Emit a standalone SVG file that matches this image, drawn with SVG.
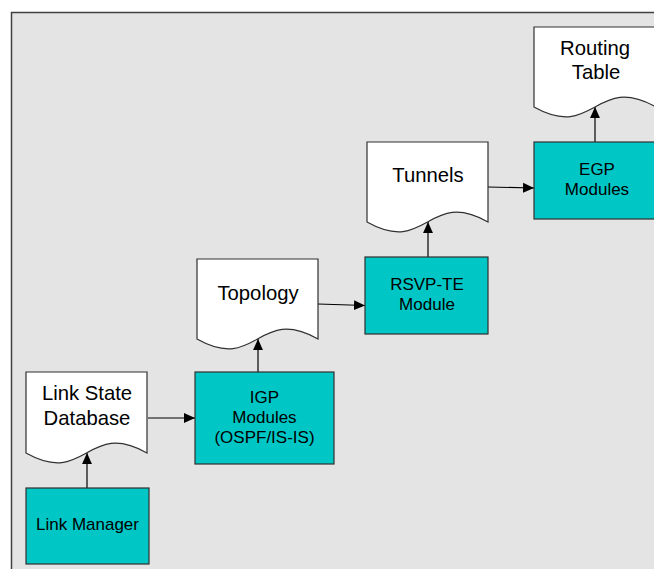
<svg xmlns="http://www.w3.org/2000/svg" width="654" height="569" viewBox="0 0 654 569">
  <defs>
    <style>
      .panel { fill: #e4e4e4; stroke: #404040; stroke-width: 1.5; }
      .doc { fill: #ffffff; stroke: #303030; stroke-width: 1.2; }
      .box { fill: #00c6c6; stroke: #303030; stroke-width: 1.2; }
      .conn { fill: none; stroke: #000000; stroke-width: 1.2; marker-end: url(#arrow); }
      text { font-family: "Liberation Sans", Arial, sans-serif; fill: #000000; text-anchor: middle; }
      .dt { font-size: 20.3px; }
      .bt { font-size: 17px; }
    </style>
    <marker id="arrow" viewBox="0 0 10 10" refX="10" refY="5" markerWidth="11" markerHeight="11" markerUnits="userSpaceOnUse" orient="auto">
      <path d="M0,0.5 L10,5 L0,9.5 Z" fill="#000000"/>
    </marker>
  </defs>

  <!-- background frame -->
  <rect class="panel" x="11.5" y="12.5" width="660" height="580"/>

  <!-- connectors -->
  <g id="connectors">
    <line class="conn" x1="87" y1="488" x2="87" y2="453"/>
    <line class="conn" x1="148" y1="418" x2="195" y2="418"/>
    <line class="conn" x1="258" y1="372" x2="258" y2="339"/>
    <line class="conn" x1="318" y1="304" x2="365" y2="305.5"/>
    <line class="conn" x1="428" y1="257" x2="428" y2="222"/>
    <line class="conn" x1="488" y1="187" x2="534" y2="188"/>
    <line class="conn" x1="595" y1="142" x2="595" y2="107"/>
  </g>

  <!-- documents: wavy lower edge, dip on the left, crest on the right -->
  <g id="link-state-database">
    <path class="doc" d="M26,372 H147 V453 C86.5,419 86.5,487 26,453 Z"/>
    <text class="dt" x="87" y="400">Link State</text>
    <text class="dt" x="87" y="425">Database</text>
  </g>

  <g id="topology">
    <path class="doc" d="M197,259 H318 V339 C257.5,305 257.5,373 197,339 Z"/>
    <text class="dt" x="258" y="300">Topology</text>
  </g>

  <g id="tunnels">
    <path class="doc" d="M367,142 H488 V222 C427.5,188 427.5,256 367,222 Z"/>
    <text class="dt" x="428" y="182">Tunnels</text>
  </g>

  <g id="routing-table">
    <path class="doc" d="M534,27 H656 V107 C595,73 595,141 534,107 Z"/>
    <text class="dt" x="595" y="55">Routing</text>
    <text class="dt" x="596" y="79">Table</text>
  </g>

  <!-- processing modules -->
  <g id="link-manager">
    <rect class="box" x="26" y="488" width="123" height="76"/>
    <text class="bt" x="87.5" y="530">Link Manager</text>
  </g>

  <g id="igp-modules">
    <rect class="box" x="195" y="372" width="139" height="92"/>
    <text class="bt" x="264.5" y="403">IGP</text>
    <text class="bt" x="264.5" y="423">Modules</text>
    <text class="bt" x="264.5" y="443">(OSPF/IS-IS)</text>
  </g>

  <g id="rsvp-te-module">
    <rect class="box" x="365" y="257" width="123" height="77"/>
    <text class="bt" x="427" y="290">RSVP-TE</text>
    <text class="bt" x="427" y="310">Module</text>
  </g>

  <g id="egp-modules">
    <rect class="box" x="534" y="142" width="126" height="77"/>
    <text class="bt" x="597" y="175">EGP</text>
    <text class="bt" x="597" y="195">Modules</text>
  </g>
</svg>
